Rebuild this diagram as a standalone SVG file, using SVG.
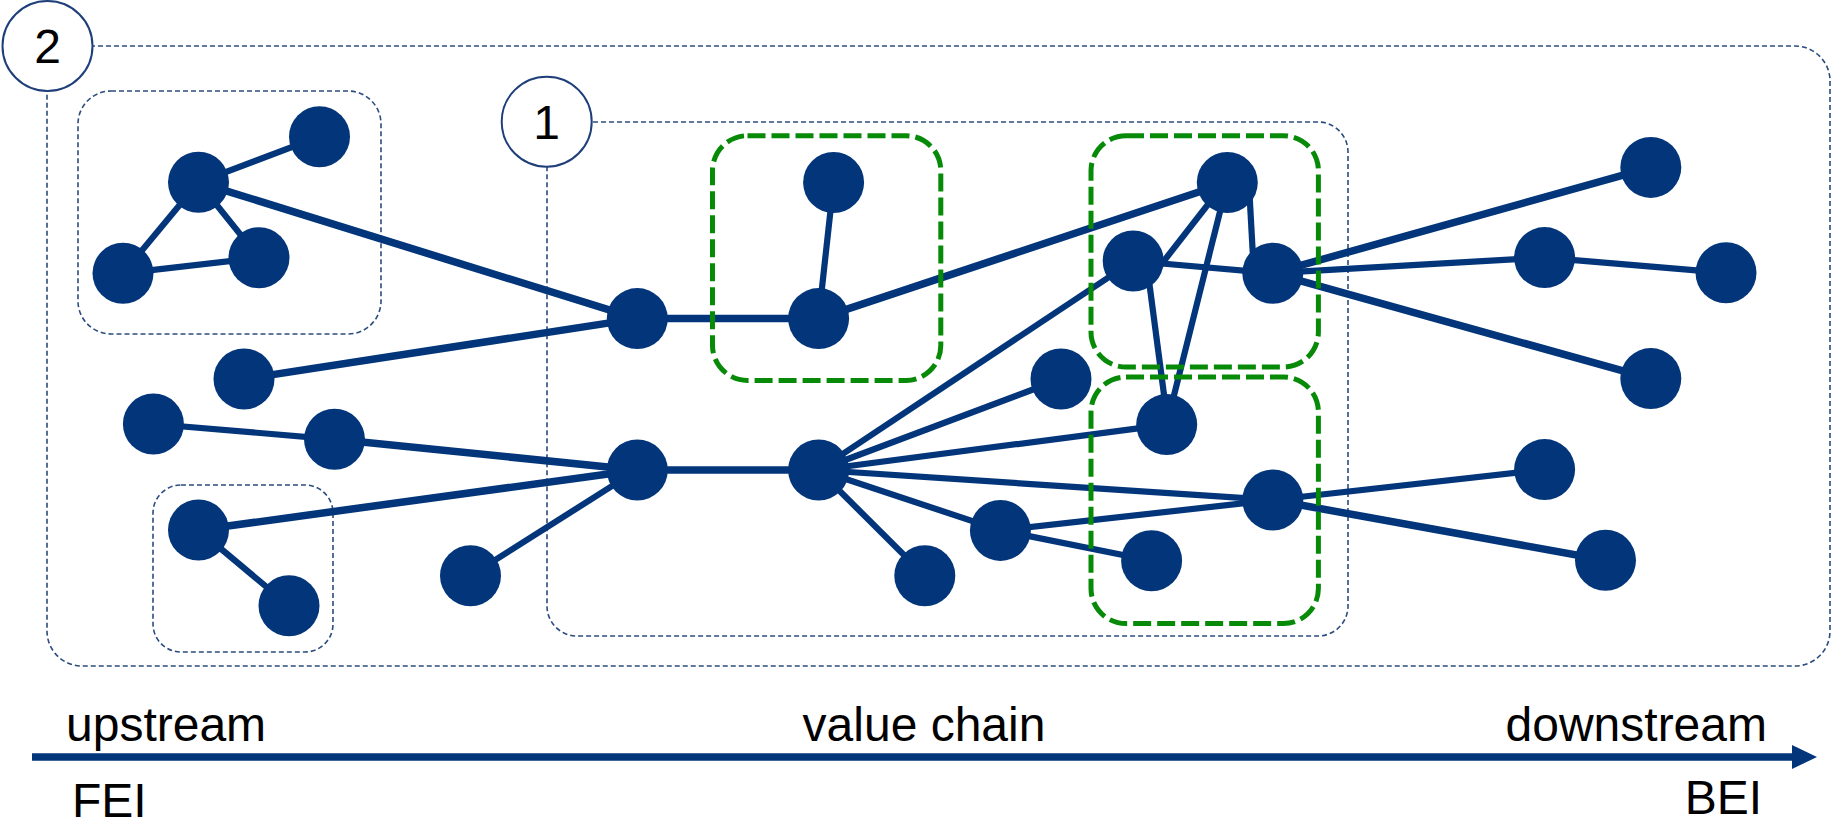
<svg xmlns="http://www.w3.org/2000/svg" width="1834" height="826" viewBox="0 0 1834 826">
<style>
.frame{fill:none;stroke:#2b4c7e;stroke-width:1.6;stroke-dasharray:5 3}
.green{fill:none;stroke:#078a07;stroke-width:5;stroke-dasharray:18 6}
.edge{stroke:#03357a;stroke-width:7.5;stroke-linecap:butt}
.thin{stroke-width:6.2}
.node{fill:#03357a}
.badge{fill:#fff;stroke:#1f3f7a;stroke-width:2}
.lbl{font-family:"Liberation Sans",Arial,sans-serif;font-size:48px;fill:#000}
</style>
<g id="frames">
<rect id="scope2" class="frame" x="47" y="46" width="1783" height="620" rx="35"/>
<rect id="scope1" class="frame" x="547" y="122" width="801" height="514" rx="30"/>
<rect id="clusterA" class="frame" x="78" y="91" width="303" height="243" rx="33"/>
<rect id="clusterB" class="frame" x="153" y="485" width="180" height="167" rx="28"/>
</g>
<g id="connectors">
<line class="edge thin" x1="198.5" y1="182.3" x2="319.5" y2="136.7"/>
<line class="edge thin" x1="198.5" y1="182.3" x2="123" y2="273.3"/>
<line class="edge thin" x1="198.5" y1="182.3" x2="259" y2="257.7"/>
<line class="edge thin" x1="123" y1="273.3" x2="259" y2="257.7"/>
<line class="edge" x1="198.5" y1="182.3" x2="637.3" y2="318.6"/>
<line class="edge" x1="244" y1="379" x2="637.3" y2="318.6"/>
<line class="edge" x1="637.3" y1="318.6" x2="818.6" y2="318.6"/>
<line class="edge thin" x1="818.6" y1="318.6" x2="833.6" y2="182.5"/>
<line class="edge" x1="818.6" y1="318.6" x2="1227.3" y2="182.5"/>
<line class="edge thin" x1="153.4" y1="424" x2="334.5" y2="439.3"/>
<line class="edge" x1="334.5" y1="439.3" x2="637.3" y2="470"/>
<line class="edge" x1="198.5" y1="530" x2="637.3" y2="470"/>
<line class="edge thin" x1="198.5" y1="530" x2="289" y2="605.7"/>
<line class="edge thin" x1="470.5" y1="575.7" x2="637.3" y2="470"/>
<line class="edge" x1="637.3" y1="470" x2="818.6" y2="470"/>
<line class="edge thin" x1="818.6" y1="470" x2="1133.2" y2="261"/>
<line class="edge thin" x1="818.6" y1="470" x2="1061" y2="379"/>
<line class="edge thin" x1="818.6" y1="470" x2="1166.7" y2="424.6"/>
<line class="edge thin" x1="818.6" y1="470" x2="1272.8" y2="500"/>
<line class="edge thin" x1="818.6" y1="470" x2="1000.4" y2="530.4"/>
<line class="edge thin" x1="818.6" y1="470" x2="924.8" y2="575.7"/>
<line class="edge thin" x1="1000.4" y1="530.4" x2="1272.8" y2="500"/>
<line class="edge thin" x1="1000.4" y1="530.4" x2="1151.6" y2="560.7"/>
<line class="edge thin" x1="1227" y1="180" x2="1160" y2="266"/>
<line class="edge thin" x1="1249" y1="185" x2="1254" y2="275"/>
<line class="edge thin" x1="1227.3" y1="182.5" x2="1166.7" y2="424.6"/>
<line class="edge thin" x1="1133.2" y1="261" x2="1272.8" y2="273.2"/>
<line class="edge thin" x1="1146" y1="258" x2="1168" y2="425"/>
<line class="edge" x1="1272.8" y1="273.2" x2="1650.8" y2="167.4"/>
<line class="edge thin" x1="1272.8" y1="273.2" x2="1544.6" y2="257.6"/>
<line class="edge" x1="1272.8" y1="273.2" x2="1650.8" y2="378.6"/>
<line class="edge thin" x1="1544.6" y1="257.6" x2="1726" y2="272.8"/>
<line class="edge thin" x1="1272.8" y1="500" x2="1544.6" y2="469.6"/>
<line class="edge" x1="1272.8" y1="500" x2="1605.5" y2="560.3"/>
</g>
<g id="nodes">
<circle id="a1" class="node" cx="319.5" cy="136.7" r="30.5"/>
<circle id="a2" class="node" cx="198.5" cy="182.3" r="30.5"/>
<circle id="a3" class="node" cx="123" cy="273.3" r="30.5"/>
<circle id="a4" class="node" cx="259" cy="257.7" r="30.5"/>
<circle id="b1" class="node" cx="198.5" cy="530" r="30.5"/>
<circle id="b2" class="node" cx="289" cy="605.7" r="30.5"/>
<circle id="c1" class="node" cx="244" cy="379" r="30.5"/>
<circle id="c2" class="node" cx="153.4" cy="424" r="30.5"/>
<circle id="c3" class="node" cx="334.5" cy="439.3" r="30.5"/>
<circle id="c4" class="node" cx="470.5" cy="575.7" r="30.5"/>
<circle id="h1" class="node" cx="637.3" cy="318.6" r="30.5"/>
<circle id="h2" class="node" cx="818.6" cy="318.6" r="30.5"/>
<circle id="h3" class="node" cx="833.6" cy="182.5" r="30.5"/>
<circle id="h4" class="node" cx="637.3" cy="470" r="30.5"/>
<circle id="h5" class="node" cx="818.6" cy="470" r="30.5"/>
<circle id="d1" class="node" cx="1061" cy="379" r="30.5"/>
<circle id="d2" class="node" cx="1000.4" cy="530.4" r="30.5"/>
<circle id="d3" class="node" cx="924.8" cy="575.7" r="30.5"/>
<circle id="e1" class="node" cx="1227.3" cy="182.5" r="30.5"/>
<circle id="e2" class="node" cx="1133.2" cy="261" r="30.5"/>
<circle id="e3" class="node" cx="1272.8" cy="273.2" r="30.5"/>
<circle id="e4" class="node" cx="1166.7" cy="424.6" r="30.5"/>
<circle id="e5" class="node" cx="1272.8" cy="500" r="30.5"/>
<circle id="e6" class="node" cx="1151.6" cy="560.7" r="30.5"/>
<circle id="f1" class="node" cx="1650.8" cy="167.4" r="30.5"/>
<circle id="f2" class="node" cx="1544.6" cy="257.6" r="30.5"/>
<circle id="f3" class="node" cx="1726" cy="272.8" r="30.5"/>
<circle id="f4" class="node" cx="1650.8" cy="378.6" r="30.5"/>
<circle id="f5" class="node" cx="1544.6" cy="469.6" r="30.5"/>
<circle id="f6" class="node" cx="1605.5" cy="560.3" r="30.5"/>
</g>
<g id="clusters">
<rect id="g1" class="green" x="712.5" y="135.7" width="228.3" height="244.7" rx="35"/>
<rect id="g2" class="green" x="1091" y="135.7" width="227.4" height="231.3" rx="35"/>
<rect id="g3" class="green" x="1091" y="377" width="227.4" height="246.6" rx="35"/>
</g>
<g id="badge2">
<circle class="badge" cx="47.5" cy="46" r="45"/>
<text class="lbl" x="47.5" y="63" text-anchor="middle">2</text>
</g>
<g id="badge1">
<circle class="badge" cx="546.7" cy="121.7" r="45"/>
<text class="lbl" x="546.7" y="139" text-anchor="middle">1</text>
</g>
<g id="axis">
<line x1="32" y1="757" x2="1796" y2="757" stroke="#03357a" stroke-width="7.5"/>
<polygon points="1792,745 1817,757 1792,769" fill="#03357a"/>
<text class="lbl" x="66" y="741">upstream</text>
<text class="lbl" x="924" y="741" text-anchor="middle">value chain</text>
<text class="lbl" x="1767" y="741" text-anchor="end">downstream</text>
<text class="lbl" x="72" y="817" font-size="46">FEI</text>
<text class="lbl" x="1762" y="814" text-anchor="end" font-size="46">BEI</text>
</g>
</svg>
